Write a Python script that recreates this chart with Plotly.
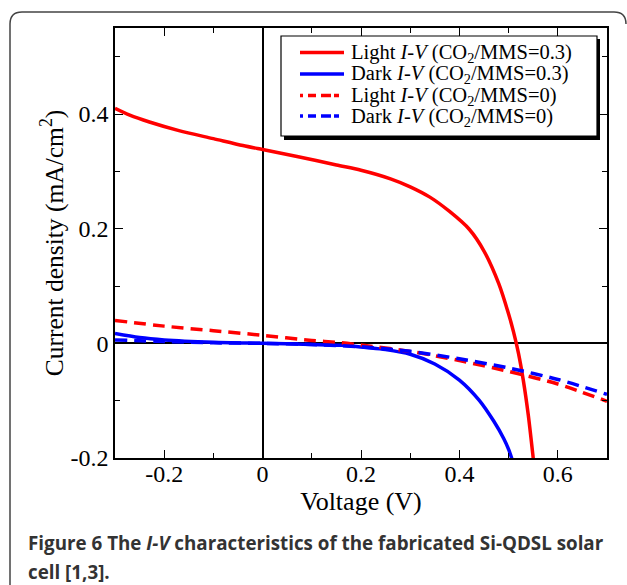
import plotly.graph_objects as go

# ---------------- data ----------------
v_light03 = [-0.3, -0.27, -0.23, -0.17, -0.1, -0.04, 0.0, 0.07, 0.15, 0.2, 0.26, 0.3, 0.34, 0.38,
             0.42, 0.45, 0.48, 0.5, 0.51, 0.52, 0.53, 0.54, 0.55, 0.56]
j_light03 = [0.410, 0.398, 0.386, 0.371, 0.357, 0.345, 0.338, 0.326, 0.311, 0.302, 0.287, 0.273, 0.255, 0.230,
             0.199, 0.161, 0.104, 0.051, 0.020, -0.017, -0.065, -0.125, -0.200, -0.280]

v_dark03 = [-0.3, -0.25, -0.2, -0.1, 0.0, 0.1, 0.16, 0.21, 0.25, 0.3, 0.35, 0.4, 0.44, 0.47, 0.49, 0.5, 0.51]
j_dark03 = [0.017, 0.010, 0.006, 0.002, 0.0, -0.002, -0.0035, -0.0075, -0.011, -0.019, -0.036, -0.064, -0.099,
            -0.136, -0.166, -0.185, -0.210]

v_light0 = [-0.3, -0.2, -0.1, 0.0, 0.1, 0.16, 0.2, 0.3, 0.4, 0.5, 0.6, 0.7]
j_light0 = [0.040, 0.030, 0.022, 0.014, 0.005, 0.001, -0.003, -0.014, -0.030, -0.049, -0.071, -0.101]

v_dark0 = [-0.3, -0.2, -0.1, 0.0, 0.1, 0.2, 0.3, 0.4, 0.5, 0.6, 0.7]
j_dark0 = [0.006, 0.003, 0.001, 0.0, -0.002, -0.006, -0.014, -0.027, -0.043, -0.063, -0.089]

series_names = [
    "Light <i>I-V</i> (CO<sub>2</sub>/MMS=0.3)",
    "Dark <i>I-V</i> (CO<sub>2</sub>/MMS=0.3)",
    "Light <i>I-V</i> (CO<sub>2</sub>/MMS=0)",
    "Dark <i>I-V</i> (CO<sub>2</sub>/MMS=0)",
]

x_tickvals = [-0.2, 0.0, 0.2, 0.4, 0.6]
x_ticktext = ["-0.2", "0", "0.2", "0.4", "0.6"]
x_minor = [-0.3, -0.1, 0.1, 0.3, 0.5, 0.7]
y_tickvals = [-0.2, 0.0, 0.2, 0.4]
y_ticktext = ["-0.2", "0", "0.2", "0.4"]
y_minor = [-0.1, 0.1, 0.3, 0.5]

caption_line1 = "<b>Figure 6</b> <b>The <i>I-V</i> characteristics of the fabricated Si-QDSL solar</b>"
caption_line2 = "<b>cell [1,3].</b>"

# ---------------- layout helpers ----------------
W, H = 627, 585
ML, MR, MT, MB = 115, 20, 28, 127
PW, PH = W - ML - MR, H - MT - MB


def px(x):
    return (x - ML) / PW


def py(y):
    return (H - MB - y) / PH


SERIF = "Liberation Serif"
RED = "#ff0000"
BLUE = "#0000ff"
colors = [RED, BLUE, RED, BLUE]
dashes = ["solid", "solid", "12px,7px", "12px,7px"]
data = [(v_light03, j_light03), (v_dark03, j_dark03), (v_light0, j_light0), (v_dark0, j_dark0)]

fig = go.Figure()
for (vx, jy), name, c, d in zip(data, series_names, colors, dashes):
    fig.add_trace(go.Scatter(x=vx, y=jy, mode="lines", name=name, showlegend=False,
                             line=dict(color=c, width=3.5, dash=d, shape="spline", smoothing=0.8)))

axis_common = dict(
    showline=True, linecolor="black", linewidth=1.5, mirror="ticks",
    ticks="inside", ticklen=8, tickwidth=1.2, tickcolor="black",
    showgrid=False, zeroline=True, zerolinecolor="black", zerolinewidth=2,
    tickfont=dict(family=SERIF, size=24, color="black"),
    tickmode="array",
)

fig.update_xaxes(range=[-0.3, 0.7], tickvals=x_tickvals, ticktext=x_ticktext, ticklabelstandoff=-7,
                 minor=dict(tickmode="array", tickvals=x_minor, ticks="inside", ticklen=5, tickcolor="black"),
                 title=dict(text="Voltage (V)", font=dict(family=SERIF, size=26, color="black"), standoff=2),
                 **axis_common)
fig.update_yaxes(range=[-0.2, 0.55], tickvals=y_tickvals, ticktext=y_ticktext,
                 minor=dict(tickmode="array", tickvals=y_minor, ticks="inside", ticklen=5, tickcolor="black"),
                 title=dict(text="Current density (mA/cm<sup>2</sup>)", font=dict(family=SERIF, size=25.5, color="black"), standoff=0),
                 **axis_common)

shapes = []
# figure frame (rounded top corners)
frame = (f"M {px(10)},{py(600)} L {px(10)},{py(24)} Q {px(10)},{py(12)} {px(22)},{py(12)} "
         f"L {px(614)},{py(12)} Q {px(626)},{py(12)} {px(626)},{py(24)}")
shapes.append(dict(type="path", path=frame, xref="paper", yref="paper",
                   line=dict(color="#444444", width=1.5), layer="above"))
# legend shadow + box
shapes.append(dict(type="rect", xref="paper", yref="paper", x0=px(284), x1=px(600), y0=py(140), y1=py(39),
                   fillcolor="black", line=dict(width=0), layer="above"))
shapes.append(dict(type="rect", xref="paper", yref="paper", x0=px(281), x1=px(597), y0=py(136), y1=py(36),
                   fillcolor="white", line=dict(color="black", width=1.2), layer="above"))
row_y = [52.5, 74, 95.5, 116]
annotations = []
for ry, name, c, d in zip(row_y, series_names, colors, dashes):
    shapes.append(dict(type="line", xref="paper", yref="paper", x0=px(300), x1=px(344), y0=py(ry), y1=py(ry),
                       line=dict(color=c, width=3.5, dash=("solid" if d == "solid" else "3px,5px,8px,5px,10px")), layer="above"))
    annotations.append(dict(text=name, xref="paper", yref="paper", x=px(349), y=py(ry + 1),
                            xanchor="left", yanchor="middle", showarrow=False,
                            font=dict(family=SERIF, size=20.5, color="black")))

annotations.append(dict(text=caption_line1, xref="paper", yref="paper", x=px(26), y=py(543),
                        xanchor="left", yanchor="middle", showarrow=False,
                        font=dict(family="Open Sans", size=18.8, color="#333333")))
annotations.append(dict(text=caption_line2, xref="paper", yref="paper", x=px(26), y=py(572),
                        xanchor="left", yanchor="middle", showarrow=False,
                        font=dict(family="Open Sans", size=18.8, color="#333333")))

fig.update_layout(
    width=W, height=H,
    margin=dict(l=ML, r=MR, t=MT, b=MB),
    paper_bgcolor="white", plot_bgcolor="white",
    shapes=shapes, annotations=annotations,
    showlegend=False,
)

fig.write_html("out.html", config={"displayModeBar": False},
               post_script="document.body.style.margin='0px';")
